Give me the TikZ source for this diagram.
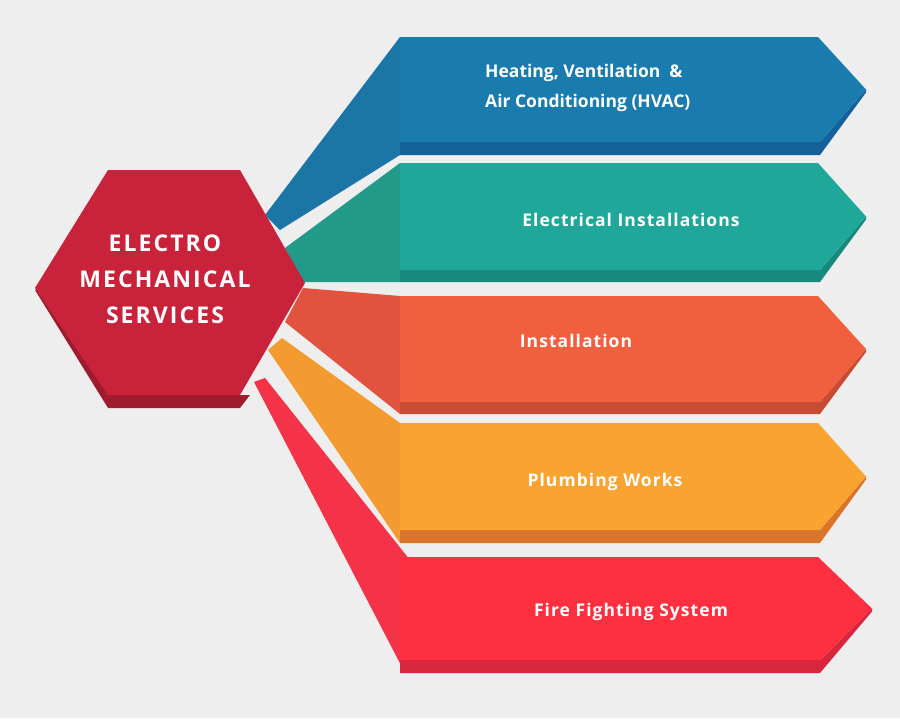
\documentclass[tikz,border=0pt]{standalone}
\usepackage{fontspec}
\setmainfont{Open Sans}
\definecolor{bg}{HTML}{EEEEEE}
\definecolor{hexc}{HTML}{C8233B}\definecolor{hexs}{HTML}{9E1C2E}
\definecolor{c1}{HTML}{1A7BAE}\definecolor{s1}{HTML}{13609A}\definecolor{w1}{HTML}{1B76A6}
\definecolor{c2}{HTML}{1FA899}\definecolor{s2}{HTML}{178A7E}\definecolor{w2}{HTML}{229A8A}
\definecolor{c3}{HTML}{F0603F}\definecolor{s3}{HTML}{C94B33}\definecolor{w3}{HTML}{E2533F}
\definecolor{c4}{HTML}{F9A431}\definecolor{s4}{HTML}{D9742A}\definecolor{w4}{HTML}{F39A30}
\definecolor{c5}{HTML}{FE3040}\definecolor{s5}{HTML}{D9263F}\definecolor{w5}{HTML}{F43248}
\tikzset{lbl/.style={text=white,font=\bfseries\fontsize{17.5}{30}\selectfont,align=left},
 lbs/.style={text=white,font=\bfseries\fontsize{17.5}{24}\selectfont\addfontfeature{LetterSpace=6}}}
\newcommand{\band}[6]{% top, facebottom, shadowbottom, face color, shadow color, tipx
 \fill[#5] (400,-#2) -- (820,-#2) -- (#6,-{(#1+#2)/2}) -- (#6,-{(#1+#2)/2-3}) -- (820,-#3) -- (400,-#3) -- cycle;
 \fill[#4] (400,-#1) -- (818,-#1) -- (#6,-{(#1+#2)/2}) -- (820,-#2) -- (400,-#2) -- cycle;}
\begin{document}
\begin{tikzpicture}[x=1pt,y=1pt]
\fill[bg] (0,0) rectangle (900,-718);
\useasboundingbox (0,0) rectangle (900,-718);
% wedges
\fill[w1] (265,-215) -- (400,-37) -- (400,-155) -- (280,-230) -- cycle;
\fill[w2] (285,-248) -- (400,-163) -- (400,-282) -- (303,-282) -- cycle;
\fill[w3] (303,-288) -- (400,-296) -- (400,-414) -- (285,-322) -- cycle;
\fill[w4] (282,-338) -- (400,-423) -- (400,-543) -- (268,-350) -- cycle;
\fill[w5] (265,-378) -- (410,-560) -- (405,-673) -- (254,-382) -- cycle;
% bands
\band{37}{142}{155}{c1}{s1}{866}
\band{163}{270}{282}{c2}{s2}{866}
\band{296}{402}{414}{c3}{s3}{866}
\band{423}{530}{543}{c4}{s4}{866}
\band{557}{660}{673}{c5}{s5}{872}
% hexagon
\fill[hexs] (35,-290) -- (108,-408) -- (240,-408) -- (250,-395) -- (108,-395) -- (45,-288) -- cycle;
\fill[hexc] (108,-170) -- (240,-170) -- (305,-283) -- (240,-395) -- (108,-395) -- (35,-288) -- cycle;
\node[text=white,font=\bfseries\fontsize{23}{36}\selectfont\addfontfeature{LetterSpace=9},align=center] (hex) at (165,-279) {ELECTRO\\MECHANICAL\\SERVICES};
\node[lbl,anchor=west,inner sep=0pt] (t1) at (485,-88) {Heating, Ventilation \ \&\\Air Conditioning (HVAC)};
\node[lbs] (t2) at (631,-220) {Electrical Installations};
\node[lbs] (t3) at (576,-341) {Installation};
\node[lbs] (t4) at (605,-482) {Plumbing Works};
\node[lbs] (t5) at (631,-612) {Fire Fighting System};
\end{tikzpicture}
\end{document}
